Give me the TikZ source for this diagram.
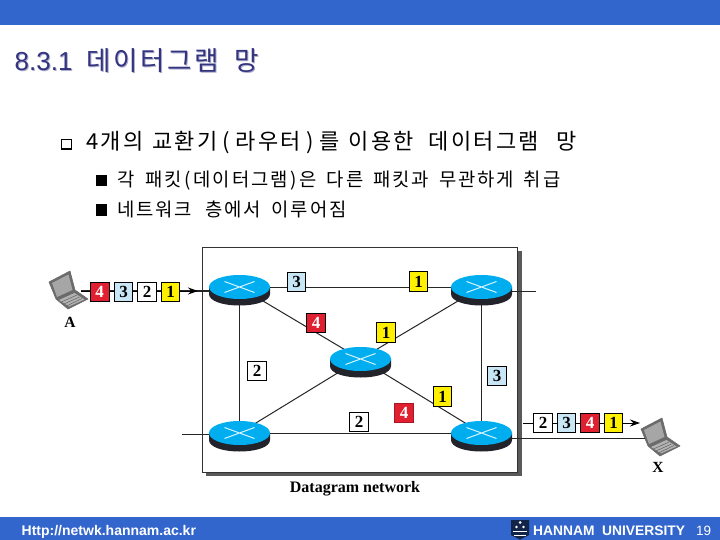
\documentclass[tikz,border=0pt]{standalone}
\usepackage{fontspec}
\usetikzlibrary{arrows.meta}
\setmainfont{Liberation Sans}
\newfontfamily\krfont{Noto Sans CJK KR}[LetterSpace=10]
\newfontfamily\latfont{Liberation Sans}
\newfontfamily\serifr{Liberation Serif}
\definecolor{barblue}{HTML}{3366CC}
\definecolor{titlenavy}{HTML}{33337F}
\definecolor{pktred}{HTML}{E02030}
\definecolor{pktblue}{HTML}{C8E6F5}
\definecolor{pktyellow}{HTML}{FFF000}
\definecolor{routercyan}{HTML}{00AEEF}
\definecolor{routerdark}{HTML}{23232B}
\newcommand{\gp}[1]{\hspace{#1pt}}
\newcommand{\titletext}{{\latfont\fontsize{26}{26}\selectfont 8.3.1}\gp{14}데이터그램\gp{15}망}
\tikzset{
  x=1pt,y=-1pt,
  pkt/.style={draw=black,line width=0.8pt,minimum width=18.5pt,minimum height=19.5pt,inner sep=0pt,font=\serifr\bfseries\fontsize{17}{17}\selectfont},
  pktr/.style={pkt,fill=pktred,text=white},
  pktb/.style={pkt,fill=pktblue},
  pktw/.style={pkt,fill=white},
  pkty/.style={pkt,fill=pktyellow},
  link/.style={draw=black!85,line width=1pt},
  lbl/.style={font=\serifr\bfseries\fontsize{15.5}{15.5}\selectfont,inner sep=0pt},
  ktext/.style={anchor=base west,inner sep=0pt,text=black,font=\krfont},
  router/.pic={
    \fill[routerdark] (-30.5,0) -- (-30.5,7) .. controls (-30.5,14) and (-17,18.5) .. (0,18.5) .. controls (17,18.5) and (30.5,14) .. (30.5,7) -- (30.5,0) -- cycle;
    \fill[routercyan] (-30.5,0) .. controls (-30.5,-6.6) and (-17,-12) .. (0,-12) .. controls (17,-12) and (30.5,-6.6) .. (30.5,0) .. controls (30.5,6.6) and (17,12) .. (0,12) .. controls (-17,12) and (-30.5,6.6) .. (-30.5,0) -- cycle;
    \draw[white!85!routercyan,line width=1pt] (-15,5.5) -- (15,-5.5) (-15,-5.5) -- (15,5.5);
  },
  laptop/.pic={
    \fill[black!58,draw=black!58,line width=0.6pt,line join=round] (49,282) -- (70,271) -- (75,290) -- (88,299) -- (68,309) -- (56,299) -- cycle;
    \fill[black!35] (52,283) -- (68.5,274.5) -- (72.5,290) -- (57,297) -- cycle;
    \fill[black!30] (59,300) -- (74.5,293) -- (84.5,299.5) -- (69,306.5) -- cycle;
    \draw[black!65,line width=0.45pt] (61.5,302) -- (77,295) (64,304) -- (79.5,297) (66.5,306) -- (82,298.5);
  },
}
\begin{document}
\begin{tikzpicture}
\useasboundingbox (0,0) rectangle (720,540);
\fill[white] (0,0) rectangle (720,540);
\fill[barblue] (0,0) rectangle (720,25);
\fill[barblue] (0,517) rectangle (720,540);
% title
\node[ktext,text=titlenavy!40,font=\krfont\fontsize{26.5}{26.5}\selectfont] (titleshadow) at (15.5,72) {\titletext};
\node[ktext,text=titlenavy,font=\krfont\fontsize{26.5}{26.5}\selectfont] (title) at (14.5,71) {\titletext};
% bullets
\node[draw=black,line width=0.7pt,fill=white,minimum size=9.5pt,inner sep=0pt] (b1) at (66.5,144.5) {};
\fill[black] (61.5,148) rectangle (71.5,150);
\node[ktext,font=\krfont\fontsize{22}{22}\selectfont] (t1) at (86,150) {4개의\gp{9}교환기\gp{5.5}(\gp{5.5}라우터\gp{5.5})\gp{5.5}를\gp{9}이용한\gp{15}데이터그램\gp{18}망};
\node[fill=black,minimum size=11.5pt,inner sep=0pt] (b2) at (101.5,180.5) {};
\node[ktext,font=\krfont\fontsize{18.8}{18.8}\selectfont] (t2) at (117,187) {각\gp{11}패킷\gp{2.75}(\gp{2.75}데이터그램\gp{2.75})\gp{2.75}은\gp{10}다른\gp{10}패킷과\gp{10}무관하게\gp{10}취급};
\node[fill=black,minimum size=11.5pt,inner sep=0pt] (b3) at (101.5,210) {};
\node[ktext,font=\krfont\fontsize{18.8}{18.8}\selectfont] (t3) at (117,216) {네트워크\gp{13}층에서\gp{11}이루어짐};
% network frame
\fill[black!65] (206,251) rectangle (521.5,475.5);
\fill[white] (202.7,247) rectangle (517.7,472);
\draw[black!80,line width=0.8pt] (202.7,247) rectangle (517.7,472);
% laptops
\pic at (0,0) {laptop};
\pic at (592,147) {laptop};
% router anchors
\coordinate (r1) at (239.5,287);
\coordinate (r2) at (481.5,287);
\coordinate (r0) at (360.5,359);
\coordinate (r3) at (239.5,433);
\coordinate (r4) at (481.5,433);
\coordinate (ain) at (81,291);
\coordinate (r1w) at (209,291);
\coordinate (atip) at (198,291);
\coordinate (r2e) at (512,291.5);
\coordinate (r2o) at (536,291.5);
\coordinate (r3i) at (182,434);
\coordinate (r3w) at (209,434);
\coordinate (r4e) at (512,438);
\coordinate (xin) at (645,438);
\coordinate (ps) at (523,423);
\coordinate (pe) at (640,423);
% links
\draw[link] (r1) -- (r2);
\draw[link] (r3) -- (r4);
\draw[link] (r1) -- (r3);
\draw[link] (r2) -- (r4);
\draw[link] (r1) -- (r0);
\draw[link] (r2) -- (r0);
\draw[link] (r3) -- (r0);
\draw[link] (r4) -- (r0);
\draw[link] (r2e) -- (r2o);
\draw[link] (r3i) -- (r3w);
\draw[link] (r4e) -- (xin);
\draw[black!85,line width=1.7pt] (ain) -- (r1w);
\draw[black,line width=1pt,-{Stealth[length=10pt,width=7pt]}] (ain) -- (atip);
\draw[black,line width=1pt,-{Stealth[length=10pt,width=7pt]}] (ps) -- (pe);
% routers
\pic at (r1) {router};
\pic at (r2) {router};
\pic at (r0) {router};
\pic at (r3) {router};
\pic at (r4) {router};
% packets
\node[pktr] (a4) at (99.7,292) {4};
\node[pktb] (a3) at (123.5,292) {3};
\node[pktw] (a2) at (147,292) {2};
\node[pkty] (a1) at (170.5,292) {1};
\node[pktb] (n3) at (296.5,282) {3};
\node[pkty] (n1) at (418.5,281.5) {1};
\node[pktr] (m4) at (316,323) {4};
\node[pkty] (m1) at (386,332.5) {1};
\node[pktw] (l2) at (257,371) {2};
\node[pktb] (r3lab) at (497,376) {3};
\node[pkty] (d1) at (442.5,396.5) {1};
\node[pktr,draw=pktred!75!black] (d4) at (404,413) {4};
\node[pktw] (b2l) at (359,422) {2};
\node[pktw] (o2) at (543,423) {2};
\node[pktb] (o3) at (566.5,423) {3};
\node[pktr] (o4) at (590,423) {4};
\node[pkty] (o1) at (613.5,423) {1};
% labels
\node[lbl] (la) at (70,322) {A};
\node[lbl] (lx) at (658,467) {X};
\node[lbl,font=\serifr\bfseries\fontsize{16}{16}\selectfont] (cap) at (355,489) {Datagram network};
% footer
\node[anchor=base west,inner sep=0pt,text=white,font=\bfseries\fontsize{14}{14}\selectfont] (url) at (21.5,535) {Http://netwk.hannam.ac.kr};
\node[anchor=base west,inner sep=0pt,text=white,font=\bfseries\fontsize{13.8}{13.8}\selectfont] (uni) at (533,535) {HANNAM\ \ UNIVERSITY};
\node[anchor=base west,inner sep=0pt,text=white,font=\fontsize{13.5}{13.5}\selectfont] (pg) at (696,535) {19};
% logo
\fill[black!10!barblue!40!black] (511,520) -- (529,520) -- (529,535) -- (520,539.5) -- (511,535) -- cycle;
\fill[white] (520,522.5) circle[radius=1.5] (516.5,527) circle[radius=1.3] (523.5,527) circle[radius=1.3];
\draw[white,line width=0.7pt] (513,531) -- (527,531) (514,535) -- (526,535);
\end{tikzpicture}
\end{document}
